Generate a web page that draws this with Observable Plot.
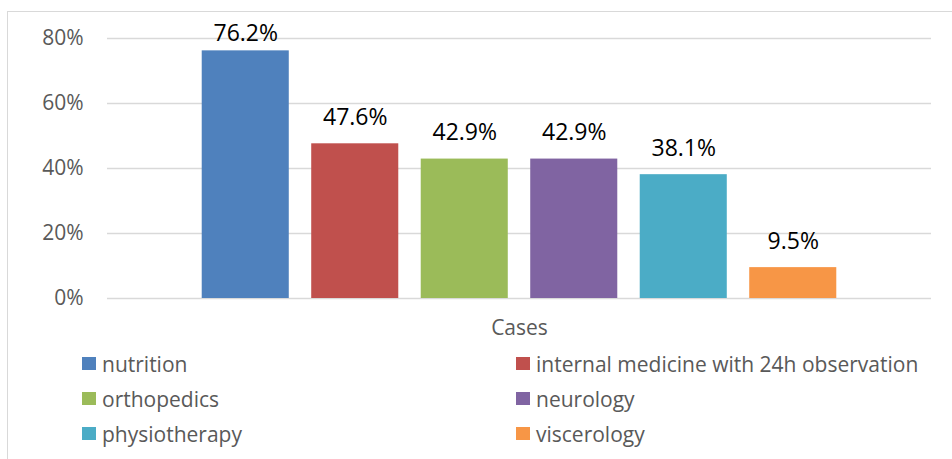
<!DOCTYPE html>
<html>
<head>
<meta charset="utf-8">
<script src="https://cdn.jsdelivr.net/npm/d3@7"></script>
<script src="https://cdn.jsdelivr.net/npm/@observablehq/plot@0.6"></script>
<style>
  html, body { margin: 0; padding: 0; background: #fff; }
  body { width: 952px; height: 459px; position: relative; overflow: hidden; font-family: "Open Sans", sans-serif; }
  #frame { position: absolute; left: 7px; top: 11px; width: 960px; height: 470px; border: 1.5px solid #d9d9d9; box-sizing: border-box; }
  #chart { position: absolute; left: 0; top: 0; }
  #legend { position: absolute; left: 82px; top: 346px; display: grid; grid-template-columns: 434px auto; grid-auto-rows: 35px; }
  .item { display: flex; align-items: center; font-size: 21px; color: #595959; white-space: nowrap; }
  .sw { width: 14px; height: 13px; margin-right: 6px; flex: none; }
</style>
</head>
<body>
<div id="frame"></div>
<div id="chart"></div>
<div id="legend"></div>
<script>
const categories = ["nutrition", "internal medicine with 24h observation", "orthopedics", "neurology", "physiotherapy", "viscerology"];
const values = [76.2, 47.6, 42.9, 42.9, 38.1, 9.5];
const colors = ["#4F81BD", "#C0504D", "#9BBB59", "#8064A2", "#4BACC6", "#F79646"];
const yTicks = [0, 20, 40, 60, 80];
const groupLabel = "Cases";

const data = categories.map((c, i) => ({category: c, value: values[i]}));
// label sits above the bar, but is kept inside the plot area (as in the spreadsheet chart)
const labelOffset = 5.85;   // in value units
const labelMax = 79.1;

const plot = Plot.plot({
  width: 952,
  height: 346,
  marginLeft: 107,
  marginRight: 21,
  marginTop: 38,
  marginBottom: 48,
  style: {fontFamily: "Open Sans, sans-serif", background: "transparent"},
  x: {domain: categories, paddingInner: 0.205, paddingOuter: 0.865, round: false, axis: null},
  y: {domain: [0, 80], axis: null},
  color: {domain: categories, range: colors},
  marks: [
    Plot.ruleY(yTicks, {stroke: "#d9d9d9", strokeWidth: 1.5}),
    Plot.barY(data, {x: "category", y: "value", fill: "category"}),
    Plot.text(data, {x: "category", y: d => Math.min(d.value + labelOffset, labelMax), text: d => d.value.toFixed(1) + "%", lineAnchor: "bottom", dy: 0, fontSize: 23, fill: "#000"}),
    Plot.axisY({ticks: yTicks, tickSize: 0, tickPadding: 24, tickFormat: d => d + "%", fontSize: 21, fill: "#595959", label: null}),
    Plot.text([groupLabel], {frameAnchor: "bottom", dy: 36, fontSize: 21, fill: "#595959"})
  ]
});
document.getElementById("chart").appendChild(plot);

const legend = document.getElementById("legend");
categories.forEach((c, i) => {
  const it = document.createElement("div");
  it.className = "item";
  const sw = document.createElement("span");
  sw.className = "sw";
  sw.style.background = colors[i];
  it.appendChild(sw);
  it.appendChild(document.createTextNode(c));
  legend.appendChild(it);
});
</script>
</body>
</html>
